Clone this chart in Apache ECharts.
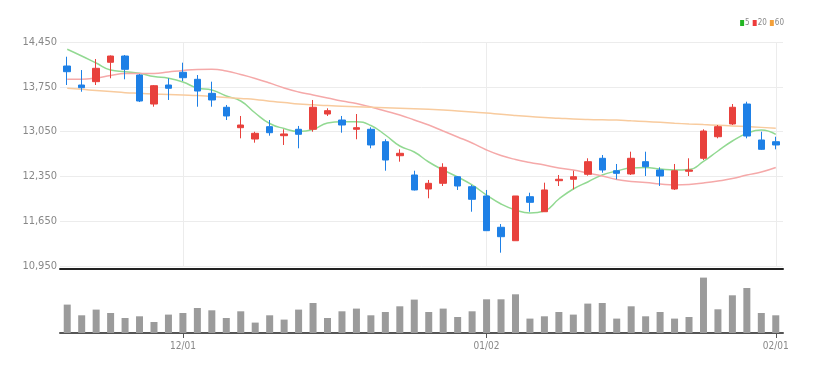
<!DOCTYPE html>
<html>
<head>
<meta charset="utf-8">
<script src="https://cdn.jsdelivr.net/npm/echarts@6/dist/echarts.min.js"></script>
<style>html,body{margin:0;padding:0;background:#fff;}#c{width:821px;height:374px;}</style>
</head>
<body>
<div id="c"></div>
<script>
var dates = ['11/21','11/22','11/23','11/24','11/25','11/28','11/29','11/30',
  '12/01','12/02','12/05','12/06','12/07','12/08','12/09','12/12','12/13','12/14','12/15','12/16','12/19','12/20','12/21','12/22','12/23','12/26','12/27','12/28','12/29',
  '01/02','01/03','01/04','01/05','01/06','01/09','01/10','01/11','01/12','01/13','01/16','01/17','01/18','01/19','01/20','01/25','01/26','01/27','01/30','01/31',
  '02/01'];
var openP  = [14075,13778,13830,14133,14231,13934,13481,13778,13977,13867,13648,13430,13111,12934,13127,12986,13086,13086,13325,13231,13086,13086,12892,12673,12372,12153,12242,12345,12189,12044,11555,11345,12033,11798,12283,12305,12383,12633,12439,12388,12580,12450,12153,12430,12633,12970,13169,13481,12919,12892];
var closeP = [13986,13736,14039,14231,14023,13528,13767,13727,13892,13684,13544,13294,13153,13023,13033,13013,13008,13430,13377,13153,13111,12841,12606,12711,12138,12242,12492,12200,11992,11502,11408,12044,11945,12138,12305,12345,12580,12450,12398,12633,12502,12356,12439,12450,13059,13127,13430,12981,12773,12841];
var highP  = [14220,14012,14184,14240,14247,13950,13778,13883,14127,13934,13830,13466,13294,13048,13231,13086,13138,13544,13414,13294,13325,13117,12930,12773,12439,12294,12555,12356,12216,12138,11606,12044,12095,12252,12372,12439,12633,12684,12544,12736,12736,12492,12544,12633,13086,13153,13481,13517,13048,12970];
var lowP   = [13778,13673,13778,13883,13867,13512,13439,13544,13841,13439,13439,13231,12945,12877,12986,12841,12789,13048,13294,13033,12930,12789,12439,12580,12130,12008,12200,12138,11798,11502,11158,11345,11798,11798,12200,12148,12361,12408,12305,12372,12356,12200,12138,12356,12606,12945,13153,12945,12763,12773];
var ma5  = [14336,14231,14122,14013,13986,13961,13911,13883,13825,13731,13700,13606,13528,13341,13177,13098,13052,13083,13184,13205,13205,13145,12997,12825,12731,12575,12450,12341,12216,12059,11919,11825,11778,11809,11997,12153,12263,12372,12434,12481,12489,12466,12450,12458,12583,12747,12903,13023,13075,13005];
var ma20 = [13867,13867,13888,13927,13958,13958,13958,13981,14005,14020,14023,13997,13942,13880,13809,13731,13669,13622,13575,13528,13489,13434,13372,13309,13231,13153,13059,12966,12872,12763,12677,12614,12567,12528,12481,12450,12403,12356,12302,12270,12255,12231,12216,12223,12247,12278,12317,12372,12419,12489];
var ma60 = [13727,13711,13692,13677,13658,13648,13638,13630,13622,13614,13598,13583,13567,13552,13525,13505,13481,13469,13456,13447,13438,13430,13422,13414,13406,13398,13388,13372,13356,13341,13320,13302,13286,13270,13259,13247,13239,13234,13231,13219,13208,13195,13181,13169,13159,13150,13139,13128,13116,13103];
var volume = [284,177,234,200,150,167,110,184,200,250,227,150,217,104,177,134,234,300,150,217,244,177,210,267,334,210,244,160,217,337,337,387,144,167,210,184,294,300,144,267,167,210,144,160,554,237,377,450,200,177];
var priceTicks = {min: 10950, max: 14450, step: 700};
var volMax = 630;

var FONT = "'Liberation Sans Narrow','DejaVu Sans Condensed','Roboto Condensed',sans-serif";
function monthStart(idx) {
  return idx > 0 && dates[idx].slice(0, 2) !== dates[idx - 1].slice(0, 2);
}
var monthMarks = dates.filter(function (d, i) { return monthStart(i); }).map(function (d) { return {xAxis: d}; });
var kdata = openP.map(function (o, i) { return [o, closeP[i], lowP[i], highP[i]]; });

var chart = echarts.init(document.getElementById('c'), null, {renderer: 'canvas'});
chart.setOption({
  animation: false,
  backgroundColor: '#fff',
  legend: {
    right: 37, top: 19, padding: 0,
    icon: 'rect', itemWidth: 4, itemHeight: 6, itemGap: 3,
    textStyle: {fontSize: 8, color: '#888', fontFamily: FONT, padding: [0, 0, 0, -4]},
    data: ['5', '20', '60']
  },
  grid: [
    {left: 60, right: 38, top: 42, height: 224},
    {left: 60, right: 38, top: 270, height: 63}
  ],
  xAxis: [
    {
      type: 'category', gridIndex: 0, data: dates, boundaryGap: true,
      offset: 3,
      axisLine: {lineStyle: {color: '#222', width: 2}},
      axisTick: {show: false}, axisLabel: {show: false},
      splitLine: {show: false}
    },
    {
      type: 'category', gridIndex: 1, data: dates, boundaryGap: true,
      axisLine: {lineStyle: {color: '#555', width: 2}},
      axisTick: {show: true, alignWithLabel: true, interval: function (i) { return monthStart(i); }, length: 5, lineStyle: {color: '#555'}},
      axisLabel: {interval: function (i) { return monthStart(i); }, color: '#888', fontSize: 10, fontFamily: FONT, margin: 8},
      splitLine: {show: false}
    }
  ],
  yAxis: [
    {
      type: 'value', gridIndex: 0, min: priceTicks.min, max: priceTicks.max, interval: priceTicks.step,
      axisLine: {show: false}, axisTick: {show: false},
      axisLabel: {color: '#888', fontSize: 11, fontFamily: FONT, margin: 3,
        formatter: function (v) { return v.toLocaleString('en-US'); }},
      splitLine: {lineStyle: {color: '#ececec', width: 1}}
    },
    {
      type: 'value', gridIndex: 1, min: 0, max: volMax,
      axisLine: {show: false}, axisTick: {show: false}, axisLabel: {show: false},
      splitLine: {show: false}
    }
  ],
  series: [
    {
      name: 'price', type: 'candlestick', xAxisIndex: 0, yAxisIndex: 0, data: kdata,
      barWidth: 7, z: 3,
      itemStyle: {color: '#e8413c', color0: '#1e80e6', borderColor: '#e8413c', borderColor0: '#1e80e6', borderWidth: 1},
      markLine: {
        silent: true, symbol: ['none', 'none'], z: 1,
        label: {show: false},
        lineStyle: {color: '#ececec', width: 1, type: 'solid'},
        data: monthMarks
      }
    },
    {
      name: '5', type: 'line', xAxisIndex: 0, yAxisIndex: 0, data: ma5, smooth: true, showSymbol: false, symbol: 'none',
      itemStyle: {color: '#22b522'}, lineStyle: {color: '#92d992', width: 1.5}
    },
    {
      name: '20', type: 'line', xAxisIndex: 0, yAxisIndex: 0, data: ma20, smooth: true, showSymbol: false, symbol: 'none',
      itemStyle: {color: '#ee3b3b'}, lineStyle: {color: '#f5a9a9', width: 1.5}
    },
    {
      name: '60', type: 'line', xAxisIndex: 0, yAxisIndex: 0, data: ma60, smooth: true, showSymbol: false, symbol: 'none',
      itemStyle: {color: '#f3a03a'}, lineStyle: {color: '#f8cb9e', width: 1.5}
    },
    {
      name: 'vol', type: 'bar', xAxisIndex: 1, yAxisIndex: 1, data: volume, barWidth: 7,
      itemStyle: {color: '#9b9b9b'}
    }
  ]
});
</script>
</body>
</html>
